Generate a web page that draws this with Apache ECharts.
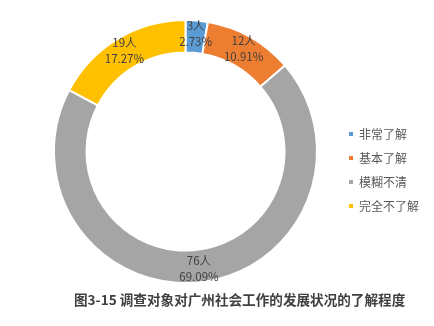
<!DOCTYPE html>
<html><head><meta charset="utf-8">
<script src="https://cdn.jsdelivr.net/npm/echarts@6/dist/echarts.min.js"></script>
<style>html,body{margin:0;padding:0;background:#fff}#c{width:434px;height:326px}</style>
</head><body><div id="c"></div>
<script>
const categories = ['非常了解', '基本了解', '模糊不清', '完全不了解'];
const values = [3, 12, 76, 19];
const colors = ['#5B9BD5', '#ED7D31', '#A5A5A5', '#FFC000'];
const titleText = '图3-15 调查对象对广州社会工作的发展状况的了解程度';

const chart = echarts.init(document.getElementById('c'));
chart.setOption({
  animation: false,
  color: colors,
  title: {
    text: titleText,
    left: 69, top: 288,
    textStyle: { fontSize: 13.6, fontWeight: 'bold', color: '#404040', fontFamily: 'Noto Sans CJK SC' }
  },
  legend: {
    orient: 'vertical',
    left: 342, top: 123,
    icon: 'rect', itemWidth: 6, itemHeight: 6, itemGap: 12,
    textStyle: { fontSize: 12, color: '#595959', fontFamily: 'Noto Sans CJK SC' },
    data: categories
  },
  series: [{
    type: 'pie',
    center: [185.5, 151.5],
    radius: [99, 131.5],
    startAngle: 90,
    clockwise: true,
    itemStyle: { borderColor: '#fff', borderWidth: 2 },
    label: {
      position: 'inside',
      formatter: '{c}人\n{d}%',
      fontSize: 11.5, lineHeight: 16,
      color: '#404040',
      fontFamily: 'Noto Sans CJK SC'
    },
    labelLine: { show: false },
    data: categories.map((n, i) => ({ name: n, value: values[i] }))
  }]
});
</script></body></html>
